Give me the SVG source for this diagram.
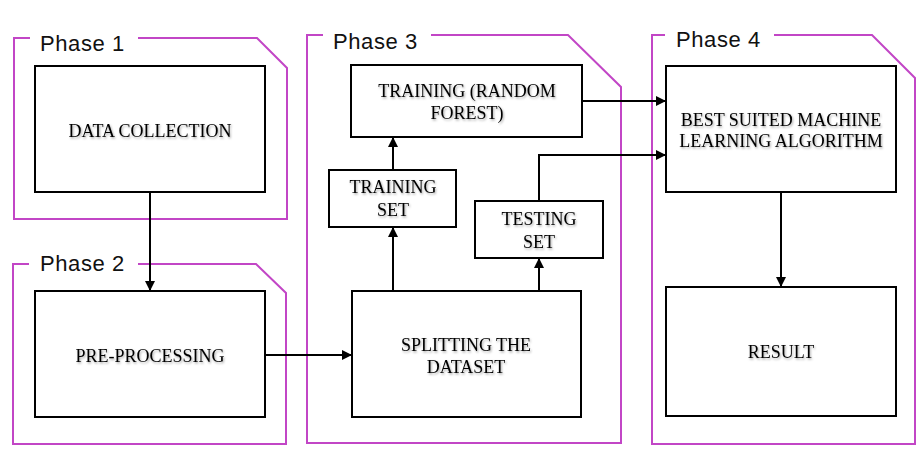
<svg xmlns="http://www.w3.org/2000/svg" width="923" height="450" viewBox="0 0 923 450">
<style>
.frame{fill:none;stroke:#C246C6;stroke-width:2}
.box{fill:#fff;stroke:#000;stroke-width:2}
.lbl{font-family:"Liberation Serif","Times New Roman",serif;font-size:18px;fill:#000;text-anchor:middle;filter:url(#sh)}
.ph{font-family:"Liberation Sans",Arial,sans-serif;font-size:22px;letter-spacing:0.6px;fill:#111}
.con{fill:none;stroke:#000;stroke-width:2;marker-end:url(#ah)}
</style>
<defs>
<marker id="ah" viewBox="0 0 10 10" refX="9" refY="5" markerWidth="5" markerHeight="5" orient="auto" markerUnits="strokeWidth"><path d="M0,0 L10,5 L0,10 z" fill="#000"/></marker>
<filter id="sh" x="-10%" y="-20%" width="120%" height="150%"><feDropShadow dx="1" dy="1.5" stdDeviation="0.8" flood-color="#000" flood-opacity="0.35"/></filter>
</defs>
<g id="phase1">
<path class="frame" d="M30,38 H14 V219 H287 V68 L257,38 H138"/>
<text class="ph" x="40" y="51">Phase 1</text>
</g>
<g id="phase2">
<path class="frame" d="M29,264 H13 V444 H286 V293 L256,264 H138"/>
<text class="ph" x="40" y="271">Phase 2</text>
</g>
<g id="phase3">
<path class="frame" d="M323,35 H307 V443 H621 V87 L568,35 H431"/>
<text class="ph" x="333" y="49">Phase 3</text>
</g>
<g id="phase4">
<path class="frame" d="M665,35 H652 V444 H915 V78 L872,35 H774"/>
<text class="ph" x="676" y="47">Phase 4</text>
</g>
<g id="data-collection">
<rect class="box" x="35" y="66" width="230" height="126"/>
<text class="lbl" x="150" y="137">DATA COLLECTION</text>
</g>
<g id="pre-processing">
<rect class="box" x="35" y="291" width="230" height="126"/>
<text class="lbl" x="150" y="362">PRE-PROCESSING</text>
</g>
<g id="training-rf">
<rect class="box" x="351" y="65" width="231" height="72"/>
<text class="lbl" x="467" y="97">TRAINING (RANDOM</text>
<text class="lbl" x="467" y="119">FOREST)</text>
</g>
<g id="training-set">
<rect class="box" x="329" y="170" width="127" height="57"/>
<text class="lbl" x="393" y="193">TRAINING</text>
<text class="lbl" x="393" y="216">SET</text>
</g>
<g id="testing-set">
<rect class="box" x="475" y="201" width="128" height="57"/>
<text class="lbl" x="539" y="225">TESTING</text>
<text class="lbl" x="539" y="248">SET</text>
</g>
<g id="splitting">
<rect class="box" x="352" y="291" width="229" height="126"/>
<text class="lbl" x="466" y="351">SPLITTING THE</text>
<text class="lbl" x="466" y="373">DATASET</text>
</g>
<g id="best-suited">
<rect class="box" x="666" y="66" width="230" height="126"/>
<text class="lbl" x="781" y="126">BEST SUITED MACHINE</text>
<text class="lbl" x="781" y="147">LEARNING ALGORITHM</text>
</g>
<g id="result">
<rect class="box" x="666" y="287" width="230" height="129"/>
<text class="lbl" x="781" y="358">RESULT</text>
</g>
<g id="connectors">
<path class="con" d="M150,192 V290"/>
<path class="con" d="M265,355 H351"/>
<path class="con" d="M393,291 V228"/>
<path class="con" d="M393,170 V138"/>
<path class="con" d="M539,291 V259"/>
<path class="con" d="M539,201 V155 H665"/>
<path class="con" d="M582,101 H665"/>
<path class="con" d="M781,192 V286"/>
</g>
</svg>
